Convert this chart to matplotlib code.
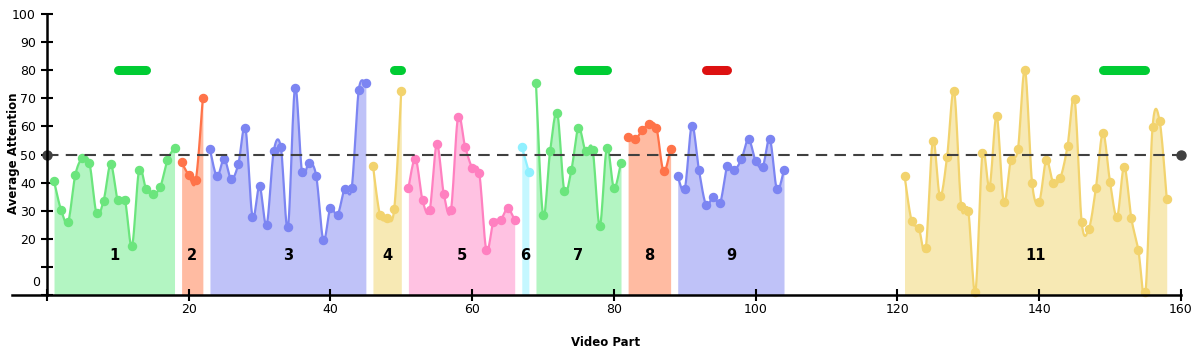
import numpy as np
import matplotlib
matplotlib.use('Agg')
import matplotlib.pyplot as plt

# Segment data (video part index -> average attention)
seg_ids = ['1', '2', '3', '4', '5', '6', '7', '8', '9', '11']
seg_starts = [1, 19, 23, 46, 51, 67, 69, 82, 89, 121]
seg_values = [
    [40.6, 30.2, 26.1, 42.7, 48.6, 46.9, 29.1, 33.6, 46.5, 33.7, 33.8, 17.5,
     44.4, 37.7, 35.9, 38.5, 48.0, 52.4],
    [47.2, 42.8, 40.8, 70.1],
    [51.8, 42.2, 48.5, 41.3, 46.5, 59.4, 27.9, 38.7, 25.0, 51.2, 52.6, 24.1,
     73.7, 43.7, 47.1, 42.3, 19.6, 31.0, 28.4, 37.8, 38.1, 73.0, 75.4],
    [46.0, 28.4, 27.3, 30.6, 72.7],
    [38.1, 48.5, 33.7, 30.1, 53.6, 35.9, 30.1, 63.2, 52.8, 45.3, 43.3, 16.0,
     26.1, 26.6, 30.8, 26.7],
    [52.8, 43.8],
    [75.4, 28.4, 51.2, 64.7, 37.1, 44.5, 59.5, 51.2, 51.6, 24.6, 52.4, 38.1, 47.1],
    [56.1, 55.4, 58.6, 60.9, 59.4, 44.1, 52.1],
    [42.3, 37.8, 60.3, 44.4, 32.1, 34.9, 32.9, 45.9, 44.5, 48.4, 55.4, 47.7,
     45.7, 55.4, 37.6, 44.6],
    [42.5, 26.4, 24.0, 16.8, 54.9, 35.2, 49.0, 72.5, 31.6, 29.9, 1.2, 50.4,
     38.5, 63.7, 33.1, 47.9, 51.8, 80.1, 39.9, 33.1, 47.9, 39.9, 41.8, 52.9,
     69.8, 25.9, 23.4, 38.0, 57.7, 40.2, 27.9, 45.7, 27.4, 15.9, 1.0, 59.8,
     61.9, 34.3],
]
seg_colors = ['green', 'orange', 'blue', 'yellow', 'pink', 'cyan',
              'green', 'orange', 'blue', 'yellow']

# Highlight bars at attention 80 (start, end, kind)
bar_starts = [10, 49, 75, 93, 149]
bar_ends = [14, 50, 79, 96, 155]
bar_kinds = ['good', 'good', 'good', 'bad', 'good']

threshold = 50

palette = {
    'green': ('#6be57d', '#b3f5c2'),
    'orange': ('#ff7349', '#ffbba2'),
    'blue': ('#7c85f2', '#bfc2f8'),
    'yellow': ('#f2d36e', '#f7e9b4'),
    'pink': ('#ff80c0', '#ffc2e2'),
    'cyan': ('#90f0ff', '#c5f7ff'),
}
bar_palette = {'good': '#00cc33', 'bad': '#dd1111'}


def catmull_rom(x, y, n=12):
    """Smooth curve through every point (like d3 curveCardinal)"""
    x = np.asarray(x, float)
    y = np.asarray(y, float)
    if len(x) < 3:
        return x, y
    px = np.concatenate([[x[0]], x, [x[-1]]])
    py = np.concatenate([[y[0]], y, [y[-1]]])
    xs, ys = [], []
    t = np.linspace(0, 1, n, endpoint=False)
    for i in range(1, len(px) - 2):
        for arr, out in ((px, xs), (py, ys)):
            p0, p1, p2, p3 = arr[i - 1], arr[i], arr[i + 1], arr[i + 2]
            out.extend(0.5 * ((2 * p1) + (-p0 + p2) * t
                              + (2 * p0 - 5 * p1 + 4 * p2 - p3) * t ** 2
                              + (-p0 + 3 * p1 - 3 * p2 + p3) * t ** 3))
    xs.append(x[-1])
    ys.append(y[-1])
    return np.array(xs), np.array(ys)


fig = plt.figure(figsize=(11.99, 3.57), dpi=100)
ax = fig.add_axes([11.5 / 1199, 62 / 357, (1188 - 11.5) / 1199, 281 / 357])

for sid, start, vals, cname in zip(seg_ids, seg_starts, seg_values, seg_colors):
    line_c, fill_c = palette[cname]
    xs = np.arange(start, start + len(vals))
    cx, cy = catmull_rom(xs, vals)
    ax.fill_between(cx, 0, cy, color=fill_c, lw=0, zorder=1)
    ax.plot(cx, cy, color=line_c, lw=1.6, zorder=2)
    ax.plot(xs, vals, 'o', color=line_c, ms=5.8, zorder=3, clip_on=False)
    ax.text(xs.mean(), 14, sid, ha='center', va='center',
            fontsize=10.5, fontweight='bold', zorder=4)

for b0, b1, kind in zip(bar_starts, bar_ends, bar_kinds):
    ax.plot([b0, b1], [80, 80], color=bar_palette[kind], lw=6.5,
            solid_capstyle='round', zorder=3)

# Threshold line with end dots
ax.plot([0, 160], [threshold, threshold], color='#404040', lw=1.5,
        dashes=(5.5, 3.5), zorder=5)
ax.plot([0, 160], [threshold, threshold], 'o', color='#404040', ms=6.5,
        zorder=6, clip_on=False)

ax.set_xlim(-5, 161)
ax.set_ylim(0, 100)
for s in ['top', 'right']:
    ax.spines[s].set_visible(False)
ax.spines['left'].set_position(('data', 0))
ax.spines['bottom'].set_bounds(-5, 160)
ax.spines['left'].set_linewidth(1.8)
ax.spines['bottom'].set_linewidth(1.8)
ax.spines['left'].set_zorder(7)
ax.spines['bottom'].set_zorder(7)

ax.set_xticks(range(0, 161, 20))
ax.set_xticklabels([''] + [str(v) for v in range(20, 161, 20)])
ax.set_yticks(range(0, 101, 10))
ax.set_yticklabels(['', ''] + [str(v) for v in range(20, 101, 10)])
ax.tick_params(axis='both', direction='inout', length=8, width=1.5,
               labelsize=9, pad=4)
ax.tick_params(axis='x', pad=2)
ax.text(-1.0, 4.3, '0', ha='right', va='center', fontsize=9)

fig.text(14 / 1199, 1 - 153 / 357, 'Average Attention', rotation=90,
         ha='center', va='center', fontsize=8.5, fontweight='bold')
fig.text(606 / 1199, 1 - 343 / 357, 'Video Part', ha='center', va='center',
         fontsize=8.5, fontweight='bold')

plt.savefig('out.png', dpi=100)
